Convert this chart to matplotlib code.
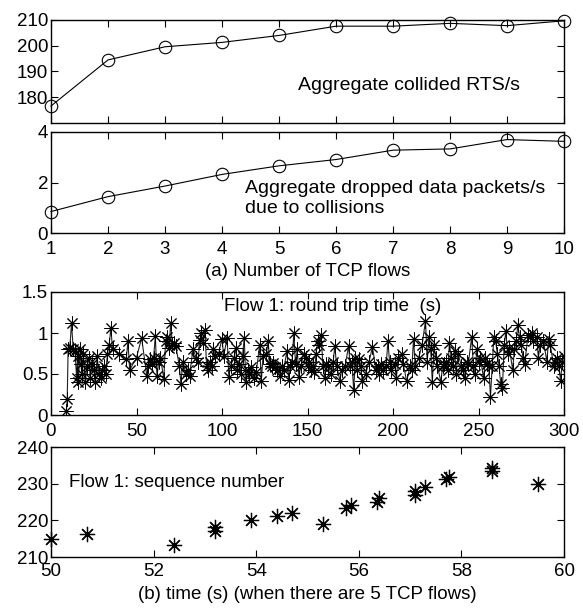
import matplotlib
matplotlib.use("Agg")
import matplotlib.pyplot as plt

plt.rcParams['font.family'] = ['Liberation Sans', 'DejaVu Sans']
plt.rcParams['font.size'] = 13.5

# Panel (a) data
flows = [1, 2, 3, 4, 5, 6, 7, 8, 9, 10]
collided_rts = [176.6, 194.5, 199.6, 201.3, 204.0, 207.6, 207.6, 208.7, 207.8, 209.7]
dropped_pkts = [0.85, 1.44, 1.86, 2.32, 2.66, 2.91, 3.28, 3.33, 3.70, 3.63]

# Panel (b) upper: round trip time of flow 1
rtt_t = [9, 9.5, 10, 11, 12, 13, 14, 15, 15.5, 16, 17, 17.5, 18, 19, 20, 21, 22, 23, 24, 25, 26, 27, 28, 29, 30, 31, 32, 33, 34,
         35, 36, 40, 44, 45, 46, 50, 53, 56, 57, 58, 59, 60, 61, 62,
         63, 64, 66, 67, 68, 69, 70, 71, 72, 73, 75, 76, 77, 79, 80, 81, 83, 85, 86, 87, 88, 89, 90,
         91, 92, 93, 94, 95, 96, 98, 100, 101, 103, 104, 105, 107, 108, 109, 110, 111, 112, 113, 114, 115, 116, 117, 119, 120, 122, 123, 124, 126, 127, 128, 129, 130,
         131, 132, 134, 135, 136, 138, 139, 140, 141, 142, 143, 144, 145, 146, 148, 149, 150, 151, 152, 153, 154, 155, 156, 157, 158, 159, 160, 161, 162, 164, 165, 166, 167, 169, 170,
         172, 174, 175, 176, 177, 178, 179, 180, 181, 182, 184, 186, 188, 190, 191, 192, 193, 194, 196, 197, 198, 199, 201, 202, 203, 205, 206, 208, 210,
         211, 212, 213, 215, 217, 219, 220, 221, 222, 223, 224, 225, 226, 228, 229, 230, 231, 232, 233, 234, 235, 236, 237, 238, 240, 241, 242, 243, 244, 246, 247, 248, 249, 250,
         251, 253, 254, 255, 256, 257, 258, 259, 260, 261, 262, 263, 264, 265, 266, 267, 268, 270, 271, 272, 273, 274, 275, 276, 277, 279, 280, 281, 282, 284, 285, 286, 288, 290, 291, 292, 294, 295, 296, 297, 298, 299, 300]
rtt_v = [0.05, 0.2, 0.8, 0.82, 1.12, 0.8, 0.78, 0.45, 0.72, 0.4, 0.8, 0.62, 0.5, 0.75, 0.4, 0.6, 0.7, 0.45, 0.62, 0.55, 0.4, 0.72, 0.5, 0.45, 0.55, 0.6, 0.5, 0.75, 0.85,
         1.06, 0.8, 0.75, 0.68, 0.9, 0.55, 0.7, 0.94, 0.48, 0.6, 0.68, 0.62, 0.7, 0.96, 0.47,
         0.65, 0.7, 0.44, 0.9, 0.95, 0.82, 1.12, 0.85, 0.88, 0.84, 0.6, 0.38, 0.65, 0.5, 0.55, 0.48, 0.8, 0.7, 0.65, 0.92, 1.0, 0.88, 1.04,
         0.6, 0.55, 0.65, 0.6, 0.8, 0.72, 0.75, 0.93, 0.72, 0.94, 0.46, 0.6, 0.7, 0.82, 0.55, 0.62, 0.5, 0.72, 0.94, 0.4, 0.55, 0.5, 0.58, 0.45, 0.52, 0.85, 0.42, 0.72, 0.75, 0.9, 0.62, 0.6, 0.64,
         0.58, 0.55, 0.48, 0.6, 0.55, 0.78, 0.43, 0.6, 0.65, 1.0, 0.62, 0.8, 0.46, 0.6, 0.75, 0.7, 0.6, 0.65, 0.55, 0.6, 0.52, 0.75, 0.9, 0.85, 0.98, 0.6, 0.45, 0.62, 0.6, 0.5, 0.65, 0.84, 0.6, 0.42, 0.55,
         0.6, 0.84, 0.6, 0.65, 0.3, 0.7, 0.55, 0.68, 0.6, 0.42, 0.5, 0.65, 0.83, 0.55, 0.6, 0.5, 0.62, 0.55, 0.6, 0.9, 0.65, 0.55, 0.62, 0.45, 0.7, 0.75, 0.62, 0.41, 0.6,
         0.55, 0.93, 0.6, 0.7, 0.85, 1.15, 0.65, 0.95, 0.8, 0.4, 0.85, 0.7, 0.6, 0.4, 0.6, 0.62, 0.65, 0.55, 0.88, 0.7, 0.6, 0.78, 0.5, 0.75, 0.6, 0.55, 0.45, 0.65, 0.62, 0.95, 0.6, 0.5, 0.8, 0.65,
         0.7, 0.45, 0.7, 0.62, 0.6, 0.22, 0.6, 0.95, 0.9, 0.75, 0.6, 0.38, 0.33, 0.85, 1.02, 0.75, 0.82, 0.55, 0.8, 0.9, 1.1, 0.95, 0.85, 0.7, 0.62, 0.98, 0.95, 1.0, 0.9, 0.95, 0.7, 0.85, 0.9, 0.65, 0.93, 0.85, 0.6, 0.65, 0.7, 0.6, 0.42, 0.65, 0.72]

# Panel (b) lower: sequence numbers of flow 1
seq_t = [50.0, 50.7, 52.4, 53.2, 53.2, 53.9, 54.4, 54.7, 55.3, 55.75, 55.85, 56.35, 56.4, 57.1, 57.1, 57.3, 57.7, 57.75, 58.6, 58.6, 59.5]
seq_v = [215, 216.3, 213.3, 218.3, 217.2, 220, 221.2, 222.1, 219.1, 223.3, 224.2, 225, 226, 227, 228, 229, 231.2, 231.8, 233.5, 234.2, 230]

W, H = 583, 608
fig = plt.figure(figsize=(W / 100, H / 100), dpi=100)

def px_axes(left, top, right, bottom):
    return fig.add_axes([left / W, 1 - bottom / H, (right - left) / W, (bottom - top) / H])

def style(ax, xpad=5.5):
    ax.tick_params(direction='in', top=True, right=True, length=5, width=0.8, labelsize=13.5)
    ax.tick_params(axis='y', pad=2)
    ax.tick_params(axis='x', pad=xpad)
    for s in ax.spines.values():
        s.set_linewidth(1.0)

ast = (8, 2, 0)
L, R = 51, 564
FS_TXT = 14

ax1 = px_axes(L, 20, R, 123)
ax1.plot(flows, collided_rts, color='black', lw=0.8, marker='o', markersize=9,
         markerfacecolor='none', markeredgecolor='black', markeredgewidth=0.8, clip_on=False)
ax1.set_xlim(1, 10)
ax1.set_ylim(170, 210)
ax1.set_yticks([180, 190, 200, 210])
ax1.set_xticks(flows)
ax1.set_xticklabels([])
ax1.text(9.23, 184.6, 'Aggregate collided RTS/s', ha='right', va='center', fontsize=FS_TXT)
style(ax1)

ax2 = px_axes(L, 132, R, 233)
ax2.plot(flows, dropped_pkts, color='black', lw=0.8, marker='o', markersize=9,
         markerfacecolor='none', markeredgecolor='black', markeredgewidth=0.8, clip_on=False)
ax2.set_xlim(1, 10)
ax2.set_ylim(0, 4)
ax2.set_yticks([0, 2, 4])
ax2.set_xticks(flows)
ax2.set_xlabel('(a) Number of TCP flows', fontsize=13.5, labelpad=4)
ax2.text(9.67, 1.37, 'Aggregate dropped data packets/s\ndue to collisions', ha='right', va='center',
         multialignment='left', fontsize=FS_TXT, linespacing=1.2)
style(ax2)

ax3 = px_axes(L, 292, R, 415)
ax3.plot(rtt_t, rtt_v, color='#222222', lw=0.8, marker=ast, markersize=10,
         markeredgecolor='black', markeredgewidth=0.7)
ax3.set_xlim(0, 300)
ax3.set_ylim(0, 1.5)
ax3.set_yticks([0, 0.5, 1, 1.5])
ax3.set_yticklabels(['0', '0.5', '1', '1.5'])
ax3.set_xticks([0, 50, 100, 150, 200, 250, 300])
ax3.text(101, 1.32, 'Flow 1: round trip time  (s)', ha='left', va='center', fontsize=13.5)
style(ax3)

ax4 = px_axes(L, 447, R, 557)
ax4.plot(seq_t, seq_v, linestyle='none', marker=ast, markersize=11,
         markeredgecolor='black', markeredgewidth=0.9, clip_on=False)
ax4.set_xlim(50, 60)
ax4.set_ylim(210, 240)
ax4.set_yticks([210, 220, 230, 240])
ax4.set_xticks([50, 52, 54, 56, 58, 60])
ax4.set_xlabel('(b) time (s) (when there are 5 TCP flows)', fontsize=13.5, labelpad=4)
ax4.text(50.35, 230.2, 'Flow 1: sequence number', ha='left', va='center', fontsize=13.5)
style(ax4, xpad=4.5)

fig.savefig('out.png', dpi=100)
